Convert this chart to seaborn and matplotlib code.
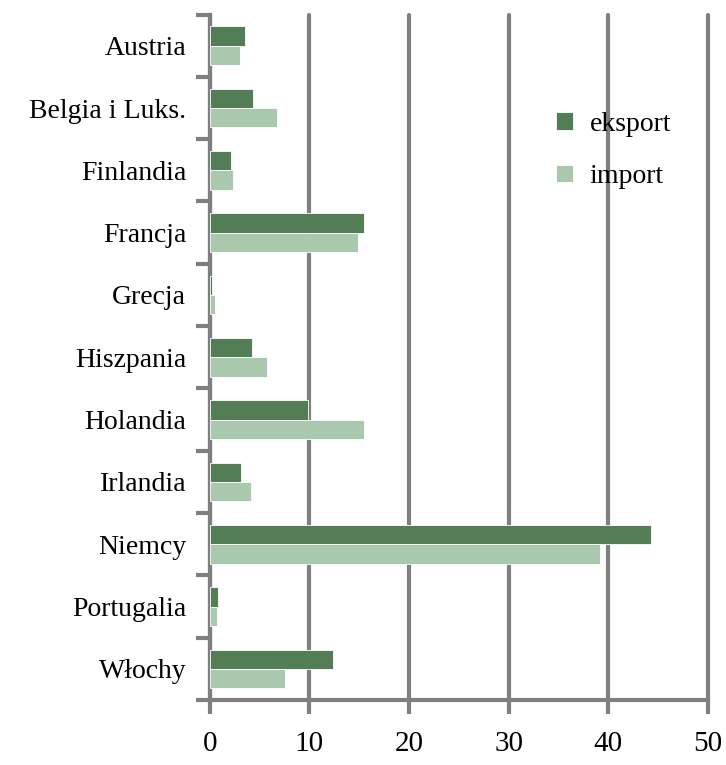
"""Eksport i import - kraje strefy euro, wykres slupkowy poziomy"""

import matplotlib
matplotlib.use('Agg')
import matplotlib.pyplot as plt
import numpy as np
import pandas as pd
import seaborn as sns

# ~~~~~~~~~~   Data   ~~~~~~~~~~~~~~~~~~~~~~~~~~~~~~~~~~~~~~~~~~~~~~~~~~~~~~~~~~~ #
countries = ['Austria', 'Belgia i Luks.', 'Finlandia', 'Francja', 'Grecja',
             'Hiszpania', 'Holandia', 'Irlandia', 'Niemcy', 'Portugalia', 'Włochy']
eksport = [3.5, 4.3, 2.1, 15.5, 0.2, 4.2, 9.9, 3.1, 44.3, 0.8, 12.4]
importy = [3.0, 6.7, 2.3, 14.9, 0.5, 5.7, 15.5, 4.1, 39.2, 0.7, 7.5]
series_names = ['eksport', 'import']
x_ticks = [0, 10, 20, 30, 40, 50]

df = pd.DataFrame({
    'kraj': countries * 2,
    'wartosc': eksport + importy,
    'seria': [series_names[0]] * len(countries) + [series_names[1]] * len(countries),
})

# ~~~~~~~~~~   Plot   ~~~~~~~~~~~~~~~~~~~~~~~~~~~~~~~~~~~~~~~~~~~~~~~~~~~~~~~~~~~ #
sns.set_style('white')
plt.rcParams['font.family'] = ['Liberation Serif', 'DejaVu Serif']
plt.rcParams['text.color'] = 'black'
grey = '#7f7f7f'

fig, ax = plt.subplots(figsize=(7.26, 7.65), dpi=100)
fig.subplots_adjust(left=0.289, right=0.975, top=0.981, bottom=0.085)

palette = {'eksport': '#527d55', 'import': '#a9c8ae'}
sns.barplot(data=df, x='wartosc', y='kraj', hue='seria', orient='h',
            palette=palette, width=0.62, saturation=1, ax=ax, zorder=3,
            edgecolor='white', linewidth=0.6)

# grid and axes
ax.set_xlim(0, 50)
ax.set_ylim(len(countries) - 0.5, -0.5)
ax.set_xticks(x_ticks)
ax.set_xticklabels([str(t) for t in x_ticks])
ax.xaxis.grid(True, color=grey, linewidth=3, zorder=0)
for line in ax.get_xgridlines():
    line.set_clip_on(False)
ax.set_axisbelow(True)
for side in ['top', 'right']:
    ax.spines[side].set_visible(False)
for side in ['left', 'bottom']:
    ax.spines[side].set_color(grey)
    ax.spines[side].set_linewidth(3)

# y ticks at category boundaries, labels in between
ax.set_yticks(np.arange(-0.5, len(countries), 1))
ax.set_yticklabels([])
ax.set_yticks(np.arange(len(countries)), minor=True)
ax.set_yticklabels(countries, minor=True)
ax.tick_params(axis='y', which='major', left=True, length=10, width=3, color=grey, direction='out')
ax.tick_params(axis='y', which='minor', left=False, length=0, pad=17, labelsize=20, labelcolor='black')
ax.tick_params(axis='x', bottom=True, length=10, width=3, color=grey, direction='out', pad=12,
               labelsize=21, labelcolor='black')

ax.set_xlabel('')
ax.set_ylabel('')

# legend
handles, labels = ax.get_legend_handles_labels()
ax.legend(handles, labels, loc='upper left', bbox_to_anchor=(0.645, 0.895),
          frameon=False, fontsize=20, handlelength=0.6, handleheight=0.6,
          labelspacing=1.0, handletextpad=0.6)

plt.savefig('out.png', dpi=100)
